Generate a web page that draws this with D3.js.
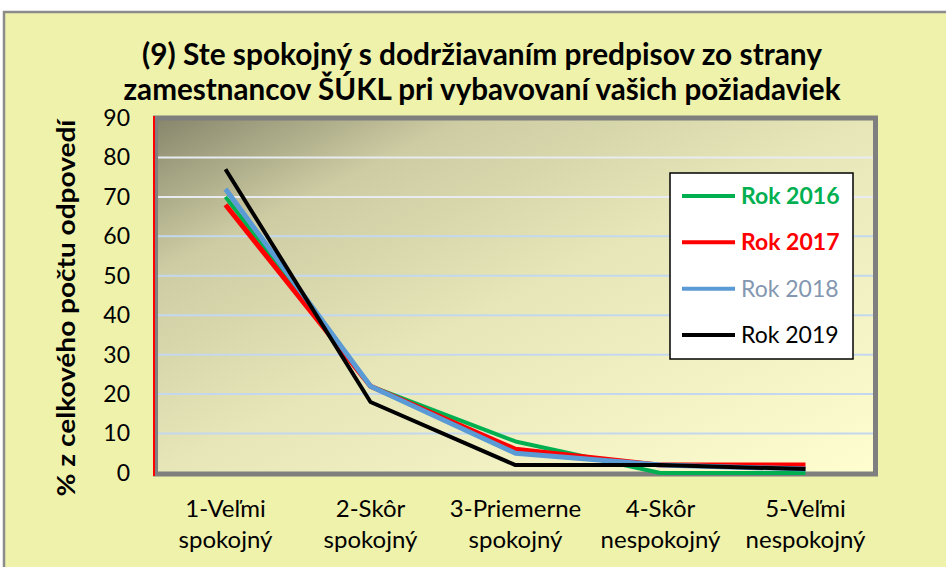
<!DOCTYPE html>
<html>
<head>
<meta charset="utf-8">
<script src="https://cdn.jsdelivr.net/npm/d3@7.9.0/dist/d3.min.js"></script>
<style>
  body { margin: 0; background: #fff; }
  svg { display: block; font-family: Lato, "Open Sans", sans-serif; }
</style>
</head>
<body>
<svg id="chart" width="946" height="567"></svg>
<script>
// data
const categories = [
  '1-Veľmi|spokojný',
  '2-Skôr|spokojný',
  '3-Priemerne|spokojný',
  '4-Skôr|nespokojný',
  '5-Veľmi|nespokojný'
];
const rok2016 = [70, 22, 8, 0, 0];
const rok2017 = [68, 22, 6, 2, 2];
const rok2018 = [72, 22, 5, 2, 1];
const rok2019 = [77, 18, 2, 2, 1];
const yTicks = [0, 10, 20, 30, 40, 50, 60, 70, 80, 90];

const series = [
  { name: 'Rok 2016', values: rok2016, color: '#00b050', width: 4, textColor: '#00b050', bold: true },
  { name: 'Rok 2017', values: rok2017, color: '#ff0000', width: 5, textColor: '#ff0000', bold: true },
  { name: 'Rok 2018', values: rok2018, color: '#5b9bd5', width: 5, textColor: '#8497b0', bold: false },
  { name: 'Rok 2019', values: rok2019, color: '#000000', width: 4, textColor: '#000000', bold: false }
];

const svg = d3.select('#chart');

// outer chart area
svg.append('rect')
  .attr('x', 4).attr('y', 12).attr('width', 960).attr('height', 600)
  .attr('fill', '#eff2ab').attr('stroke', '#8c8c8c').attr('stroke-width', 2.5);

const plot = { left: 153, right: 878, top: 118, bottom: 473 };

const x = d3.scaleBand().domain(categories).range([plot.left, plot.right]);
const y = d3.scaleLinear().domain([0, 90]).range([plot.bottom, plot.top]);

// plot background gradient
const defs = svg.append('defs');
const grad = defs.append('linearGradient')
  .attr('id', 'plotbg').attr('x1', 0).attr('y1', 0).attr('x2', 1).attr('y2', 1);
grad.append('stop').attr('offset', '0%').attr('stop-color', '#85846a');
grad.append('stop').attr('offset', '22%').attr('stop-color', '#cdcca3');
grad.append('stop').attr('offset', '50%').attr('stop-color', '#e6e6b8');
grad.append('stop').attr('offset', '100%').attr('stop-color', '#fefed0');

svg.append('rect')
  .attr('x', plot.left).attr('y', plot.top - 2)
  .attr('width', plot.right - plot.left).attr('height', plot.bottom - plot.top + 4)
  .attr('fill', 'url(#plotbg)');

// gridlines
svg.append('g')
  .selectAll('line')
  .data(yTicks.filter(d => d > 0 && d < 90))
  .join('line')
  .attr('x1', plot.left).attr('x2', plot.right)
  .attr('y1', d => y(d)).attr('y2', d => y(d))
  .attr('stroke', d => d >= 70 ? '#e8ecf0' : '#c3d8ee')
  .attr('stroke-width', 2);

// frame
svg.append('rect')
  .attr('x', plot.left + 2.5).attr('y', plot.top).attr('width', plot.right - plot.left - 5)
  .attr('height', plot.bottom - plot.top + 1)
  .attr('fill', 'none').attr('stroke', '#7f7f7f').attr('stroke-width', 5);

// red y-axis line
svg.append('line')
  .attr('x1', plot.left + 1).attr('x2', plot.left + 1)
  .attr('y1', plot.top - 2).attr('y2', plot.bottom + 3)
  .attr('stroke', '#ff0000').attr('stroke-width', 2);

// y axis labels
const yAxis = svg.append('g')
  .attr('transform', `translate(${plot.left},0)`)
  .call(d3.axisLeft(y).tickValues(yTicks).tickSize(0).tickPadding(23));
yAxis.select('.domain').remove();
yAxis.selectAll('text')
  .attr('font-size', 23).attr('fill', '#000').attr('font-family', 'Lato, sans-serif');

// x axis labels (two lines)
const xAxis = svg.append('g')
  .attr('transform', `translate(0,${plot.bottom})`)
  .call(d3.axisBottom(x).tickSize(0).tickFormat(''));
xAxis.select('.domain').remove();
xAxis.selectAll('.tick').each(function (d) {
  const parts = d.split('|');
  const t = d3.select(this).append('text')
    .attr('fill', '#000').attr('font-size', 24).attr('text-anchor', 'middle')
    .attr('font-family', 'Lato, sans-serif');
  parts.forEach((p, i) => {
    t.append('tspan').attr('x', 0).attr('y', 44 + i * 31).text(p);
  });
});

// lines
const line = d3.line()
  .x((d, i) => x(categories[i]) + x.bandwidth() / 2)
  .y(d => y(d));

svg.append('g')
  .selectAll('path')
  .data(series)
  .join('path')
  .attr('d', d => line(d.values))
  .attr('fill', 'none')
  .attr('stroke', d => d.color)
  .attr('stroke-width', d => d.width)
  .attr('stroke-linejoin', 'round');

// title
const title = svg.append('text')
  .attr('text-anchor', 'middle').attr('font-weight', 'bold').attr('font-size', 31)
  .attr('fill', '#000');
title.append('tspan').attr('x', 482).attr('y', 65)
  .attr('textLength', 680).attr('lengthAdjust', 'spacingAndGlyphs')
  .text('(9) Ste spokojný s dodržiavaním predpisov zo strany');
title.append('tspan').attr('x', 482).attr('y', 100)
  .attr('textLength', 717).attr('lengthAdjust', 'spacingAndGlyphs')
  .text('zamestnancov ŠÚKL pri vybavovaní vašich požiadaviek');

// y axis title
svg.append('text')
  .attr('transform', 'translate(75,308) rotate(-90)')
  .attr('text-anchor', 'middle').attr('font-weight', 'bold').attr('font-size', 24)
  .attr('textLength', 377).attr('lengthAdjust', 'spacingAndGlyphs')
  .text('% z celkového počtu odpovedí');

// legend
const legend = svg.append('g');
legend.append('rect')
  .attr('x', 670).attr('y', 173).attr('width', 183).attr('height', 186)
  .attr('fill', '#fff').attr('stroke', '#000').attr('stroke-width', 1.5);

const rowY = d3.scalePoint().domain(series.map(d => d.name)).range([196, 335]);
const rows = legend.selectAll('g.row')
  .data(series)
  .join('g')
  .attr('class', 'row')
  .attr('transform', d => `translate(0,${rowY(d.name)})`);
rows.append('line')
  .attr('x1', 682).attr('x2', 735)
  .attr('stroke', d => d.color).attr('stroke-width', 4);
rows.append('text')
  .attr('x', 741).attr('y', 8)
  .attr('font-size', 23)
  .attr('font-weight', d => d.bold ? 'bold' : 'normal')
  .attr('fill', d => d.textColor)
  .text(d => d.name);
</script>
</body>
</html>
